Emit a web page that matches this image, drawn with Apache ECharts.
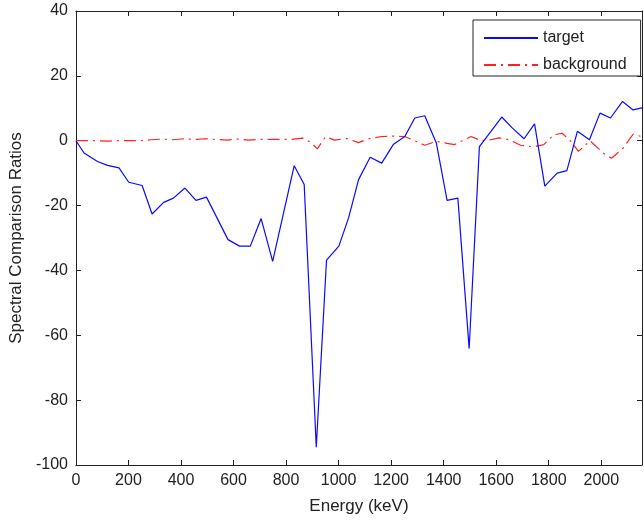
<!DOCTYPE html>
<html>
<head>
<meta charset="utf-8">
<title>Spectral Comparison Ratios</title>
<script src="https://cdn.jsdelivr.net/npm/echarts@6/dist/echarts.min.js"></script>
<style>
  html, body { margin: 0; padding: 0; background: #fff; }
  #chart { width: 644px; height: 523px; }
</style>
</head>
<body>
<div id="chart"></div>
<script>
// energy (keV) and ratio for the target curve
var targetEnergy = [0, 31, 82, 120, 164, 201, 252, 290, 334, 371, 415, 457, 497, 579, 623, 664, 705, 749,
  831, 869, 915, 954, 1001, 1038, 1076, 1120, 1164, 1208, 1252, 1290, 1328, 1372, 1413, 1454, 1497,
  1536, 1580, 1621, 1662, 1706, 1746, 1785, 1832, 1869, 1909, 1955, 1995, 2035, 2081, 2121, 2159];
var targetRatio = [0, -3.8, -6.4, -7.6, -8.4, -12.8, -13.8, -22.6, -19, -17.7, -14.6, -18.4, -17.4, -30.5, -32.5, -32.5, -24, -37.2,
  -7.7, -13.5, -94.5, -36.8, -32.5, -23.8, -12, -5.1, -6.9, -1.2, 1.3, 7, 7.7, -0.7, -18.4, -17.7, -64.1,
  -1.8, 2.9, 7.3, 3.9, 0.6, 5.2, -14, -10, -9.2, 2.9, 0.3, 8.5, 7, 12.1, 9.5, 10.2];

// energy (keV) and ratio for the background curve
var backgroundEnergy = [0, 41, 82, 123, 164, 205, 246, 287, 328, 369, 410, 451, 492, 533, 574, 615, 656, 697,
  738, 779, 820, 862, 894, 919, 950, 985, 1032, 1076, 1114, 1164, 1208, 1252, 1290, 1328, 1372, 1413,
  1441, 1504, 1542, 1580, 1611, 1649, 1693, 1743, 1781, 1819, 1851, 1882, 1913, 1957, 2007, 2039, 2083, 2121, 2153];
var backgroundRatio = [0, 0, 0, -0.1, 0, 0, 0, 0.3, 0.5, 0.3, 0.6, 0.4, 0.6, 0.4, 0.2, 0.5, 0.2, 0.4,
  0.4, 0.4, 0.4, 0.8, -0.5, -2.5, 1.2, 0.2, 0.7, -0.6, 0.6, 1.3, 1.4, 1.3, 0, -1.4, -0.2, -0.8,
  -1.2, 1.3, 0, 0.3, 0.9, 0.3, -1.4, -1.9, -1.2, 1.8, 2.3, 0, -3.3, 0, -3.8, -5.4, -2.3, 2, 1.3];

var seriesNames = ['target', 'background'];

// axis ranges
var xMin = 0, xMax = 2155, xStep = 200;
var yMin = -100, yMax = 40, yStep = 20;

function pairs(xs, ys) {
  var out = [];
  for (var i = 0; i < xs.length; i++) {
    out.push([xs[i], ys[i]]);
  }
  return out;
}

var font = "'Liberation Sans', Arial, sans-serif";
var ink = '#222';

// plain numbers on the ticks, no thousands separator
function plain(v) {
  return String(v);
}

// 坐标轴公共样式 (ticks inside, like matlab)
function axisBase(extra) {
  var base = {
    type: 'value',
    axisLine: { show: true, onZero: false, lineStyle: { color: ink, width: 1 } },
    axisTick: { show: true, inside: true, length: 5, lineStyle: { color: ink } },
    splitLine: { show: false },
    axisLabel: { show: false }
  };
  return Object.assign(base, extra);
}

var myChart = echarts.init(document.getElementById('chart'));

myChart.setOption({
  backgroundColor: '#fff',
  animation: false,
  grid: {
    left: 71,
    right: 2,
    top: 11,
    bottom: 58
  },
  legend: {
    data: seriesNames,
    orient: 'vertical',
    left: 473,
    top: 20,
    padding: [10, 14, 3, 10],
    itemWidth: 54,
    itemHeight: 20,
    itemGap: 11,
    borderColor: ink,
    borderWidth: 1,
    backgroundColor: '#fff',
    itemStyle: { opacity: 0 }, // hide the round marker, keep only the line sample
    textStyle: { fontFamily: font, fontSize: 16, color: ink }
  },
  xAxis: [
    axisBase({
      min: xMin, max: xMax, interval: xStep,
      name: 'Energy (keV)',
      nameLocation: 'middle',
      nameGap: 33,
      nameTextStyle: { fontFamily: font, fontSize: 17, color: ink },
      axisLabel: { show: true, showMaxLabel: false, margin: 8, fontFamily: font, fontSize: 16, color: ink, formatter: plain }
    }),
    axisBase({ min: xMin, max: xMax, interval: xStep, position: 'top' })
  ],
  yAxis: [
    axisBase({
      min: yMin, max: yMax, interval: yStep,
      name: 'Spectral Comparison Ratios',
      nameLocation: 'middle',
      nameGap: 48,
      nameTextStyle: { fontFamily: font, fontSize: 17, color: ink },
      axisLabel: { show: true, margin: 8, fontFamily: font, fontSize: 16, color: ink, formatter: plain }
    }),
    axisBase({ min: yMin, max: yMax, interval: yStep, position: 'right' })
  ],
  series: [
    {
      name: seriesNames[0],
      type: 'line',
      symbol: 'none',
      z: 3,
      itemStyle: { color: '#0a0aff' },
      lineStyle: { color: '#0a0aff', width: 1.2 },
      data: pairs(targetEnergy, targetRatio)
    },
    {
      name: seriesNames[1],
      type: 'line',
      symbol: 'none',
      z: 2,
      itemStyle: { color: '#ff2020' },
      lineStyle: { color: '#ff2020', width: 1.2, type: [12, 5, 2, 5] },
      data: pairs(backgroundEnergy, backgroundRatio)
    }
  ]
});
</script>
</body>
</html>
